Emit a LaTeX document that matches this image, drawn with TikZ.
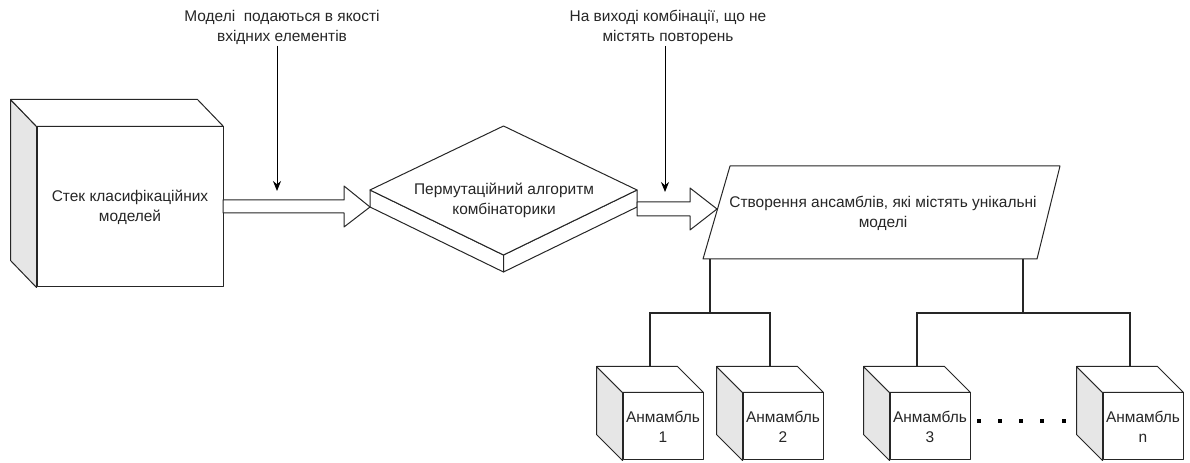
\documentclass[tikz,border=0pt]{standalone}
\usepackage{fontspec}
\setmainfont{Liberation Sans}
\usetikzlibrary{calc,arrows.meta}
\definecolor{sidegray}{HTML}{E6E6E6}
\definecolor{ink}{HTML}{262626}

% A 3D box: front face as a node, left and top faces drawn behind it.
% #1 name, #2/#3 centre of the front face, #4/#5 width/height, #6 depth upwards, #7 text
\newcommand\cubenode[7]{%
  \node[cubefront, minimum width=#4*0.75pt, minimum height=#5*0.75pt] (#1) at (#2,#3) {#7};
  \path[side] (#1.north west) -- ++(-26,-#6) -- ($(#1.south west)+(-26,-#6)$) -- (#1.south west) -- cycle;
  \path[face] (#1.north west) -- ++(-26,-#6) -- ($(#1.north east)+(-26,-#6)$) -- (#1.north east) -- cycle;
}

\begin{document}
\begin{tikzpicture}[x=0.75pt,y=-0.75pt,
  base/.style={font=\fontsize{11.6}{15}\selectfont, text=ink, align=center, inner sep=1pt},
  face/.style={draw=ink, line width=0.75pt, fill=white, line join=round},
  side/.style={face, fill=sidegray},
  cubefront/.style={base, face, inner sep=0pt},
  treeline/.style={draw=ink, line width=1.6pt},
  pointer/.style={draw=black, line width=0.75pt, -{Stealth[length=7.5pt,width=6pt]}},
]
\useasboundingbox (0,0) rectangle (1190,463);

% ---- source stack ----
\cubenode{stack}{130}{207}{186}{160}{27}{Стек класифікаційних\\моделей}

% ---- permutation rhombus (3D) ----
\coordinate (dL) at (370,190);
\coordinate (dT) at (503.5,126);
\coordinate (dR) at (637,190);
\coordinate (dB) at (503.5,255);
\path[face] (dL) -- (dB) -- ($(dB)+(0,17)$) -- ($(dL)+(0,17)$) -- cycle;
\path[face] (dB) -- (dR) -- ($(dR)+(0,17)$) -- ($(dB)+(0,17)$) -- cycle;
\path[face] (dL) -- (dT) -- (dR) -- (dB) -- cycle;
\node[base] (perm) at (504,200) {Пермутаційний алгоритм\\комбінаторики};

% ---- ensemble builder parallelogram ----
\coordinate (pTL) at (730,166);
\coordinate (pTR) at (1060,166);
\coordinate (pBR) at (1037,259);
\coordinate (pBL) at (703,259);
\path[face] (pTL) -- (pTR) -- (pBR) -- (pBL) -- cycle;
\node[base] (build) at (883,213) {Створення ансамблів, які містять унікальні\\моделі};

% ---- block arrows ----
\path[face] (223,200) -- (344,200) -- (344,186) -- (370,207) -- (344,227) -- (344,213) -- (223,213) -- cycle;
\path[face] (637,202) -- (690,202) -- (690,188) -- (717,209) -- (690,230) -- (690,216) -- (637,216) -- cycle;

% ---- notes with pointers ----
\node[base] (note1) at (282,27) {Моделі~ подаються в якості\\вхідних елементів};
\coordinate (p1) at (277,191);
\draw[pointer] (note1.south -| p1) -- (p1);
\node[base] (note2) at (668,27) {На виході комбінації, що не\\містять повторень};
\coordinate (p2) at (665,192);
\draw[pointer] (note2.south -| p2) -- (p2);

% ---- ensembles ----
\cubenode{e1}{663}{426.5}{80}{67}{26}{Анмамбль\\1}
\cubenode{e2}{783}{426.5}{80}{67}{26}{Анмамбль\\2}
\cubenode{e3}{930}{426.5}{80}{67}{26}{Анмамбль\\3}
\cubenode{en}{1143}{426.5}{80}{67}{26}{Анмамбль\\n}

% ---- tree from the builder to the ensembles ----
\coordinate (t1) at (710,259);
\coordinate (t2) at (1023,259);
\coordinate (j1) at (710,313);
\coordinate (j2) at (1023,313);
\draw[treeline] (t1) -- (j1);
\draw[treeline] (j1) -| ($(e1.north)+(-13,-26)$);
\draw[treeline] (j1) -| ($(e2.north)+(-13,-26)$);
\draw[treeline] (t2) -- (j2);
\draw[treeline] (j2) -| ($(e3.north)+(-13,-26)$);
\draw[treeline] (j2) -| ($(en.north)+(-13,-26)$);

% ---- ellipsis between ensemble 3 and n ----
\foreach \x in {979,1000,1021,1042,1064}
  \fill[black] (\x-2,419) rectangle (\x+2,423);
\end{tikzpicture}
\end{document}
